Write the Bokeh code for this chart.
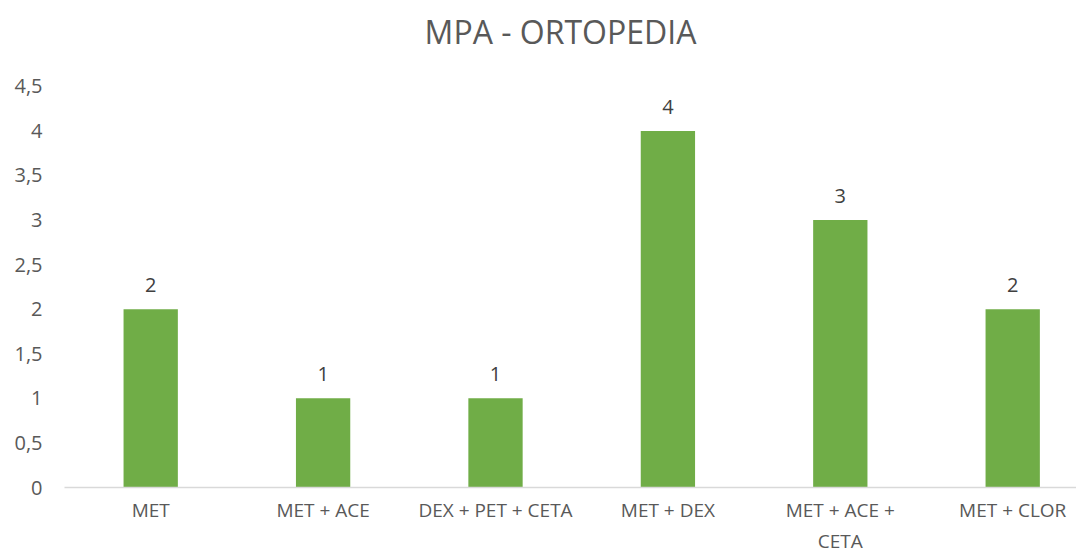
from bokeh.plotting import figure
from bokeh.models import ColumnDataSource, FixedTicker, LabelSet, Label
from bokeh.core.properties import value
from bokeh.embed import file_html
from bokeh.resources import INLINE

title_text = "MPA - ORTOPEDIA"
categories = ["MET", "MET + ACE", "DEX + PET + CETA", "MET + DEX", "MET + ACE +\nCETA", "MET + CLOR"]
values = [2, 1, 1, 4, 3, 2]
y_ticks = [0, 0.5, 1, 1.5, 2, 2.5, 3, 3.5, 4, 4.5]
y_tick_labels = ["0", "0,5", "1", "1,5", "2", "2,5", "3", "3,5", "4", "4,5"]

xs = list(range(len(categories)))
src = ColumnDataSource(dict(x=xs, top=values, lab=[str(v) for v in values]))

FONT = "Open Sans"
# the frame reaches the top of the canvas; the title sits inside its empty upper part
p = figure(width=1076, height=556, output_backend="svg", toolbar_location=None,
           x_range=(-0.5, 5.37), y_range=(0, 5.463),
           min_border_left=64, min_border_right=0, min_border_top=0, min_border_bottom=60)
p.outline_line_color = None
p.background_fill_color = "white"
p.border_fill_color = "white"
p.xgrid.visible = False
p.ygrid.visible = False

p.vbar(x="x", top="top", width=0.315, source=src, fill_color="#70AD47", line_color=None)

labels = LabelSet(x="x", y="top", text="lab", source=src, text_align="center",
                  text_baseline="alphabetic", y_offset=17, text_font=value(FONT),
                  text_font_size=value("20px"), text_color="#404040")
p.add_layout(labels)

p.add_layout(Label(x=2.377, y=5.12, text=title_text, text_align="center",
                   text_baseline="middle", text_font=FONT, text_font_size="32px",
                   text_color="#595959"))

p.xaxis.ticker = FixedTicker(ticks=xs)
p.xaxis.major_label_overrides = {i: c for i, c in zip(xs, categories)}
p.xaxis.axis_line_color = "#D9D9D9"
p.xaxis.axis_line_width = 1.5
p.xaxis.major_tick_line_color = None
p.xaxis.minor_tick_line_color = None
p.xaxis.major_label_text_font = FONT
p.xaxis.major_label_text_font_size = "19px"
p.xaxis.major_label_text_color = "#595959"
p.xaxis.major_label_standoff = 3

p.yaxis.ticker = FixedTicker(ticks=y_ticks)
p.yaxis.major_label_overrides = {t: l for t, l in zip(y_ticks, y_tick_labels)}
p.yaxis.axis_line_color = None
p.yaxis.major_tick_line_color = None
p.yaxis.minor_tick_line_color = None
p.yaxis.major_label_text_font = FONT
p.yaxis.major_label_text_font_size = "20px"
p.yaxis.major_label_text_color = "#595959"
p.yaxis.major_label_standoff = 16

open("out.html", "w").write(file_html(p, INLINE))
